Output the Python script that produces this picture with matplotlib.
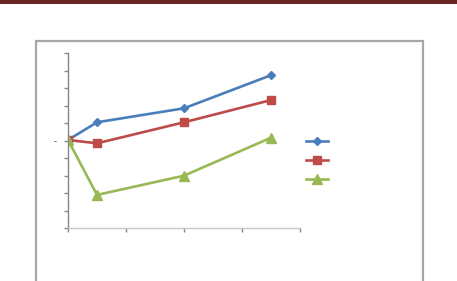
"""
plot.py - three-series line chart with unlabeled axes, inside a framed slide box.
"""

import matplotlib

matplotlib.use("Agg")
import matplotlib.pyplot as plt  # noqa: E402
from matplotlib.lines import Line2D  # noqa: E402
from matplotlib.patches import Rectangle  # noqa: E402

# data (x in days, y in axis units)
days = [0, 1, 4, 7]
series_blue = [0.03, 1.04, 1.84, 3.73]
series_red = [0.03, -0.16, 1.04, 2.31]
series_green = [0.03, -3.11, -2.01, 0.16]

x_ticks = [0, 2, 4, 6, 8]
y_ticks = [-5, -4, -3, -2, -1, 0, 1, 2, 3, 4, 5]
y_tick_labels = ["", "", "", "", "", "-", "", "", "", "", ""]

BLUE = "#4a7ebb"
RED = "#be4b48"
GREEN = "#98b954"
AXIS_GRAY = "#868686"

fig = plt.figure(figsize=(4.57, 2.81), dpi=100)
W, H = 457, 281

# dark red banner line at the very top
fig.add_artist(Rectangle((0, 1 - 4 / H), 1, 4 / H, transform=fig.transFigure,
                         facecolor="#6a2424", edgecolor="none"))

# gray frame box (runs off the bottom of the image)
fig.add_artist(Rectangle((36 / W, -0.05), (423 - 36) / W, 0.05 + 1 - 41 / H,
                         transform=fig.transFigure, facecolor="none",
                         edgecolor="#a6a6a6", linewidth=1.6))

ax = fig.add_axes([68 / W, 1 - 228 / H, (300 - 68) / W, (228 - 53) / H])

ax.plot(days, series_blue, color=BLUE, lw=1.9, marker="D", ms=4.5, label=" ")
ax.plot(days, series_red, color=RED, lw=1.9, marker="s", ms=6, label=" ")
ax.plot(days, series_green, color=GREEN, lw=1.9, marker="^", ms=6.5, label=" ")

ax.set_xlim(0, 8)
ax.set_ylim(-5, 5)
ax.set_xticks(x_ticks)
ax.set_xticklabels([])
ax.set_yticks(y_ticks)
ax.set_yticklabels(y_tick_labels, fontsize=6, color="#404040")

for side in ("top", "right"):
    ax.spines[side].set_visible(False)
ax.spines["left"].set_color(AXIS_GRAY)
ax.spines["bottom"].set_color("#c6c6c6")
ax.spines["left"].set_linewidth(1.0)
ax.spines["bottom"].set_linewidth(1.0)
ax.tick_params(axis="both", direction="out", length=3, width=1.0,
               color=AXIS_GRAY, pad=5)
for t in ax.get_xticklines() + ax.get_yticklines():
    t.set_clip_on(False)

handles = [
    Line2D([], [], color=BLUE, lw=1.9, marker="D", ms=4.5),
    Line2D([], [], color=RED, lw=1.9, marker="s", ms=6),
    Line2D([], [], color=GREEN, lw=1.9, marker="^", ms=6.5),
]
fig.legend(handles, ["", "", ""], loc="upper left",
           bbox_to_anchor=(306 / W, 1 - 135 / H), frameon=False,
           fontsize=10, handlelength=1.6, labelspacing=0.36,
           borderpad=0, borderaxespad=0, handletextpad=0.4)

fig.savefig("out.png", dpi=100)
plt.close(fig)
